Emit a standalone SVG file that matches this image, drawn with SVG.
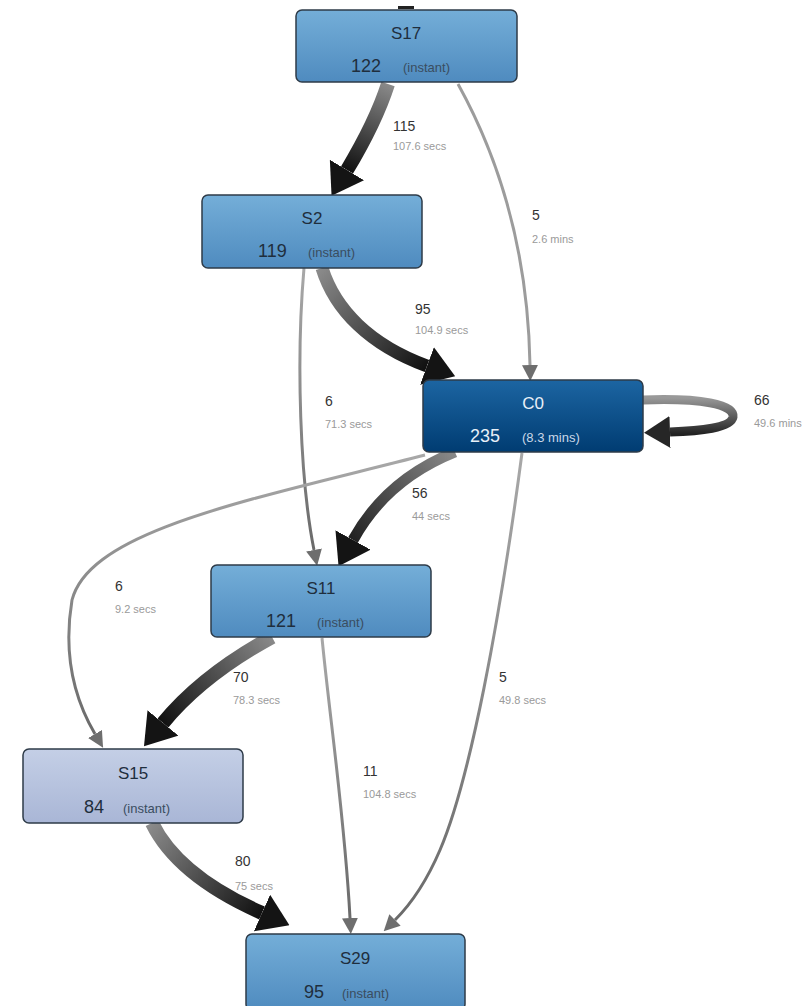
<svg xmlns="http://www.w3.org/2000/svg" width="812" height="1006" viewBox="0 0 812 1006">
  <defs>
    <style>
      .node rect { stroke: #2e3b48; stroke-width: 1.5; }
      .title { font-family: "Liberation Sans", Arial, sans-serif; font-size: 17px; fill: #1f2e3d; text-anchor: middle; }
      .count { font-family: "Liberation Sans", Arial, sans-serif; font-size: 18px; fill: #1f2e3d; }
      .dur { font-family: "Liberation Sans", Arial, sans-serif; font-size: 13px; fill: #3a4d60; }
      .dark .title, .dark .count { fill: #e8f0f8; }
      .dark .dur { fill: #c9d8e8; }
      .elab { font-family: "Liberation Sans", Arial, sans-serif; font-size: 14px; fill: #333; }
      .etime { font-family: "Liberation Sans", Arial, sans-serif; font-size: 11px; fill: #9a9a9a; }
      .thick { fill: none; stroke-linecap: butt; }
      .thin { fill: none; stroke-width: 3; }
    </style>
    <linearGradient id="gBlue" x1="0" y1="0" x2="0" y2="1">
      <stop offset="0" stop-color="#74aed8"/>
      <stop offset="1" stop-color="#4f8bbf"/>
    </linearGradient>
    <linearGradient id="gDark" x1="0" y1="0" x2="0" y2="1">
      <stop offset="0" stop-color="#1c65a2"/>
      <stop offset="1" stop-color="#003c72"/>
    </linearGradient>
    <linearGradient id="gLight" x1="0" y1="0" x2="0" y2="1">
      <stop offset="0" stop-color="#c4cfe6"/>
      <stop offset="1" stop-color="#a9b6d6"/>
    </linearGradient>
    <!-- per-edge shading from grey at the source to black at the target -->
    <linearGradient id="e1" gradientUnits="userSpaceOnUse" x1="388" y1="84" x2="347" y2="170">
      <stop offset="0" stop-color="#8a8a8a"/><stop offset="1" stop-color="#111"/>
    </linearGradient>
    <linearGradient id="e3" gradientUnits="userSpaceOnUse" x1="322" y1="268" x2="427" y2="366">
      <stop offset="0" stop-color="#8a8a8a"/><stop offset="1" stop-color="#111"/>
    </linearGradient>
    <linearGradient id="e5" gradientUnits="userSpaceOnUse" x1="455" y1="452" x2="353" y2="540">
      <stop offset="0" stop-color="#8a8a8a"/><stop offset="1" stop-color="#222"/>
    </linearGradient>
    <linearGradient id="e9" gradientUnits="userSpaceOnUse" x1="272" y1="637" x2="163" y2="723">
      <stop offset="0" stop-color="#8a8a8a"/><stop offset="1" stop-color="#111"/>
    </linearGradient>
    <linearGradient id="e11" gradientUnits="userSpaceOnUse" x1="152" y1="823" x2="262" y2="913">
      <stop offset="0" stop-color="#8a8a8a"/><stop offset="1" stop-color="#111"/>
    </linearGradient>
    <linearGradient id="e7" gradientUnits="userSpaceOnUse" x1="0" y1="398" x2="0" y2="434">
      <stop offset="0" stop-color="#999"/><stop offset="1" stop-color="#222"/>
    </linearGradient>
    <linearGradient id="eThin" gradientUnits="objectBoundingBox" x1="0" y1="0" x2="0" y2="1">
      <stop offset="0" stop-color="#a8a8a8"/><stop offset="1" stop-color="#6a6a6a"/>
    </linearGradient>
    <marker id="headBig" markerUnits="userSpaceOnUse" viewBox="0 0 30 40" refX="0" refY="20" markerWidth="30" markerHeight="40" orient="auto">
      <path d="M0,0 L30,20 L0,40 z" fill="#141414"/>
    </marker>
    <marker id="headLoop" markerUnits="userSpaceOnUse" viewBox="0 0 26 32" refX="0" refY="16" markerWidth="26" markerHeight="32" orient="auto">
      <path d="M0,0 L26,16 L0,32 z" fill="#262626"/>
    </marker>
    <marker id="headSmall" markerUnits="userSpaceOnUse" viewBox="0 0 16 16" refX="0" refY="8" markerWidth="16" markerHeight="16" orient="auto">
      <path d="M0,0 L16,8 L0,16 z" fill="#6e6e6e"/>
    </marker>
  </defs>

  <rect width="812" height="1006" fill="#ffffff"/>

  <g id="connectors">
    <!-- stub entering S17 from above -->
    <rect x="398" y="6" width="16" height="3" fill="#222"/>
    <!-- S17 -> S2 -->
    <path class="thick" d="M 388 84 C 378 115, 362 145, 347 170" stroke="url(#e1)" stroke-width="14" marker-end="url(#headBig)"/>
    <!-- S17 -> C0 -->
    <path class="thin" d="M 458 84 C 500 160, 528 250, 530 365" stroke="#9c9c9c" marker-end="url(#headSmall)"/>
    <!-- S2 -> C0 -->
    <path class="thick" d="M 322 268 C 335 310, 370 345, 427 366" stroke="url(#e3)" stroke-width="13" marker-end="url(#headBig)"/>
    <!-- S2 -> S11 -->
    <path class="thin" d="M 304 268 C 296 360, 300 480, 314 550" stroke="url(#eThin)" marker-end="url(#headSmall)"/>
    <!-- C0 -> C0 -->
    <path class="thick" d="M 643 400 C 700 398, 735 404, 733 417 C 731 428, 700 431, 670 432" stroke="url(#e7)" stroke-width="9" marker-end="url(#headLoop)"/>
    <!-- C0 -> S11 -->
    <path class="thick" d="M 455 452 C 410 470, 375 500, 353 540" stroke="url(#e5)" stroke-width="11" marker-end="url(#headBig)"/>
    <!-- C0 -> S15 -->
    <path class="thin" d="M 425 455 C 250 500, 90 530, 72 600 C 62 660, 78 705, 95 734" stroke="url(#eThin)" marker-end="url(#headSmall)"/>
    <!-- C0 -> S29 -->
    <path class="thin" d="M 522 453 C 500 620, 470 780, 440 850 C 425 885, 410 905, 395 920" stroke="url(#eThin)" marker-end="url(#headSmall)"/>
    <!-- S11 -> S15 -->
    <path class="thick" d="M 272 637 C 230 660, 190 690, 163 723" stroke="url(#e9)" stroke-width="14" marker-end="url(#headBig)"/>
    <!-- S11 -> S29 -->
    <path class="thin" d="M 322 638 C 330 720, 345 820, 350 918" stroke="url(#eThin)" marker-end="url(#headSmall)"/>
    <!-- S15 -> S29 -->
    <path class="thick" d="M 152 823 C 170 860, 210 890, 262 913" stroke="url(#e11)" stroke-width="14" marker-end="url(#headBig)"/>

    <!-- edge labels -->
    <text class="elab" x="393" y="131">115</text>
    <text class="etime" x="393" y="150">107.6 secs</text>
    <text class="elab" x="532" y="220">5</text>
    <text class="etime" x="532" y="243">2.6 mins</text>
    <text class="elab" x="415" y="314">95</text>
    <text class="etime" x="415" y="334">104.9 secs</text>
    <text class="elab" x="325" y="406">6</text>
    <text class="etime" x="325" y="428">71.3 secs</text>
    <text class="elab" x="754" y="405">66</text>
    <text class="etime" x="754" y="427">49.6 mins</text>
    <text class="elab" x="412" y="498">56</text>
    <text class="etime" x="412" y="520">44 secs</text>
    <text class="elab" x="115" y="591">6</text>
    <text class="etime" x="115" y="613">9.2 secs</text>
    <text class="elab" x="233" y="682">70</text>
    <text class="etime" x="233" y="704">78.3 secs</text>
    <text class="elab" x="499" y="682">5</text>
    <text class="etime" x="499" y="704">49.8 secs</text>
    <text class="elab" x="363" y="776">11</text>
    <text class="etime" x="363" y="798">104.8 secs</text>
    <text class="elab" x="235" y="866">80</text>
    <text class="etime" x="235" y="890">75 secs</text>
  </g>

  <g id="S17" class="node">
    <rect x="296" y="10" width="221" height="72" rx="6" fill="url(#gBlue)"/>
    <text class="title" x="406" y="39">S17</text>
    <text class="count" x="351" y="72">122</text>
    <text class="dur" x="403" y="72">(instant)</text>
  </g>

  <g id="S2" class="node">
    <rect x="202" y="195" width="220" height="73" rx="6" fill="url(#gBlue)"/>
    <text class="title" x="312" y="224">S2</text>
    <text class="count" x="258" y="257">119</text>
    <text class="dur" x="308" y="257">(instant)</text>
  </g>

  <g id="C0" class="node dark">
    <rect x="423" y="380" width="220" height="72" rx="6" fill="url(#gDark)"/>
    <text class="title" x="533" y="409">C0</text>
    <text class="count" x="470" y="442">235</text>
    <text class="dur" x="522" y="442">(8.3 mins)</text>
  </g>

  <g id="S11" class="node">
    <rect x="211" y="565" width="220" height="72" rx="6" fill="url(#gBlue)"/>
    <text class="title" x="321" y="594">S11</text>
    <text class="count" x="266" y="627">121</text>
    <text class="dur" x="317" y="627">(instant)</text>
  </g>

  <g id="S15" class="node">
    <rect x="23" y="749" width="220" height="74" rx="6" fill="url(#gLight)"/>
    <text class="title" x="133" y="779">S15</text>
    <text class="count" x="84" y="813">84</text>
    <text class="dur" x="123" y="813">(instant)</text>
  </g>

  <g id="S29" class="node">
    <rect x="246" y="934" width="219" height="76" rx="6" fill="url(#gBlue)"/>
    <text class="title" x="355" y="964">S29</text>
    <text class="count" x="304" y="998">95</text>
    <text class="dur" x="342" y="998">(instant)</text>
  </g>
</svg>
